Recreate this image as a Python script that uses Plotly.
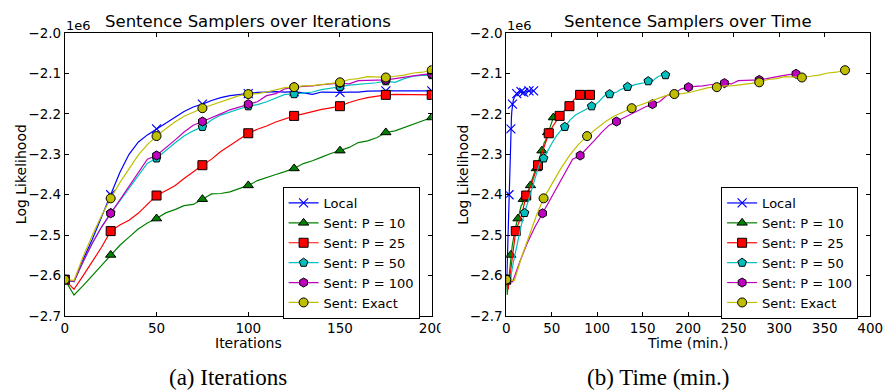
import plotly.graph_objects as go

# ---------------- data (log likelihood in units of 1e6) ----------------
iterations = list(range(0, 201, 5))

ll_local = [-2.610, -2.615, -2.560, -2.510, -2.455, -2.400, -2.345, -2.300, -2.270, -2.252,
            -2.237, -2.222, -2.208, -2.194, -2.183, -2.176, -2.167, -2.160, -2.155, -2.152,
            -2.150, -2.147, -2.146, -2.145, -2.146, -2.145, -2.148, -2.152, -2.146, -2.147,
            -2.147, -2.146, -2.146, -2.144, -2.143, -2.143, -2.143, -2.143, -2.144, -2.143, -2.143]
ll_p10 = [-2.610, -2.648, -2.625, -2.600, -2.575, -2.549, -2.525, -2.505, -2.485, -2.470,
          -2.459, -2.445, -2.437, -2.427, -2.424, -2.411, -2.398, -2.397, -2.393, -2.385,
          -2.377, -2.365, -2.357, -2.350, -2.343, -2.335, -2.323, -2.316, -2.307, -2.298,
          -2.291, -2.283, -2.271, -2.267, -2.259, -2.246, -2.242, -2.234, -2.225, -2.217, -2.209]
ll_p25 = [-2.610, -2.634, -2.600, -2.565, -2.530, -2.490, -2.475, -2.463, -2.446, -2.424,
          -2.402, -2.390, -2.378, -2.360, -2.343, -2.327, -2.312, -2.293, -2.278, -2.262,
          -2.248, -2.238, -2.230, -2.220, -2.213, -2.205, -2.200, -2.194, -2.189, -2.185,
          -2.181, -2.172, -2.165, -2.160, -2.156, -2.153, -2.152, -2.152, -2.152, -2.153, -2.153]
ll_p50 = [-2.610, -2.615, -2.565, -2.520, -2.480, -2.445, -2.415, -2.385, -2.352, -2.322,
          -2.310, -2.290, -2.272, -2.255, -2.242, -2.232, -2.215, -2.203, -2.195, -2.188,
          -2.181, -2.177, -2.170, -2.160, -2.152, -2.151, -2.148, -2.146, -2.140, -2.137,
          -2.133, -2.129, -2.127, -2.125, -2.123, -2.119, -2.122, -2.113, -2.107, -2.105, -2.104]
ll_p100 = [-2.610, -2.615, -2.565, -2.520, -2.480, -2.446, -2.415, -2.380, -2.345, -2.312,
           -2.303, -2.285, -2.265, -2.245, -2.228, -2.219, -2.210, -2.200, -2.190, -2.183,
           -2.176, -2.170, -2.155, -2.150, -2.138, -2.134, -2.132, -2.131, -2.128, -2.126,
           -2.124, -2.126, -2.118, -2.117, -2.117, -2.116, -2.113, -2.109, -2.106, -2.103, -2.101]
ll_exact = [-2.610, -2.612, -2.553, -2.500, -2.452, -2.409, -2.370, -2.335, -2.302, -2.276,
            -2.255, -2.237, -2.220, -2.206, -2.195, -2.186, -2.178, -2.170, -2.162, -2.155,
            -2.151, -2.150, -2.146, -2.140, -2.135, -2.134, -2.131, -2.130, -2.127, -2.124,
            -2.122, -2.115, -2.113, -2.108, -2.109, -2.110, -2.107, -2.104, -2.099, -2.097, -2.092]

# wall-clock time (minutes) at each of the iteration samples above
t_local = [0, 0.5, 1.2, 1.8, 2.4, 3.0, 3.4, 3.8, 4.2, 4.6, 5.0, 5.4, 5.7, 6.1, 6.5, 6.8,
           7.6, 8.7, 9.8, 10.5, 11.5, 12.8, 13.6, 15.0, 14.4, 16.2, 17.4, 16.8, 18.6, 19.8,
           19.2, 21.0, 22.3, 21.6, 23.6, 24.9, 24.2, 26.3, 27.7, 27.0, 30.0]
t_p10 = [0, 1.0, 2.0, 3.0, 4.0, 5.0, 6.6, 8.2, 9.8, 11.3, 12.9, 14.1, 15.2, 16.4, 17.5, 18.7,
         20.3, 21.9, 23.4, 25.0, 26.6, 27.9, 29.2, 30.5, 31.8, 33.1, 34.3, 35.5, 36.8, 38.0,
         39.2, 40.5, 41.7, 43.0, 44.2, 45.5, 46.8, 48.0, 49.3, 50.5, 51.8]
t_p25 = [0, 2.0, 4.1, 6.2, 8.3, 10.4, 12.7, 15.0, 17.3, 19.6, 21.9, 24.5, 27.1, 29.7, 32.3,
         34.9, 37.3, 39.6, 42.0, 44.3, 46.7, 49.1, 51.5, 53.8, 56.2, 58.6, 60.8, 62.9, 65.1,
         67.2, 69.4, 71.8, 74.1, 76.5, 78.8, 81.2, 83.4, 85.5, 87.7, 89.8, 92.0]
t_p50 = [0, 4.0, 8.0, 12.0, 16.0, 20.1, 24.3, 28.5, 32.6, 36.8, 41.0, 45.7, 50.3, 55.0, 59.6,
         64.3, 70.2, 76.1, 82.0, 87.9, 93.8, 97.8, 101.7, 105.7, 109.6, 113.6, 117.5, 121.5,
         125.4, 129.4, 133.3, 137.8, 142.4, 146.9, 151.5, 156.0, 159.8, 163.6, 167.4, 171.2, 175.0]
t_p100 = [0, 7.0, 15.0, 23.0, 31.5, 39.9, 48.2, 56.4, 64.7, 72.9, 81.2, 89.2, 97.2, 105.1,
          113.1, 121.1, 129.0, 136.9, 144.8, 152.7, 160.6, 168.5, 176.4, 184.4, 192.3, 200.2,
          208.1, 216.0, 223.9, 231.8, 239.7, 247.4, 255.0, 262.7, 270.3, 278.0, 286.1, 294.2,
          302.2, 310.3, 318.4]
t_exact = [0, 9.0, 17.0, 25.0, 33.0, 41.0, 50.6, 60.1, 69.7, 79.2, 88.8, 98.6, 108.4, 118.2,
           128.0, 137.8, 147.2, 156.6, 165.9, 175.3, 184.7, 194.0, 203.4, 212.7, 222.1, 231.4,
           240.7, 250.0, 259.4, 268.7, 278.0, 287.4, 296.8, 306.1, 315.5, 324.9, 334.4, 343.8,
           353.3, 362.8, 372.3]

series_names = ["Local", "Sent: P = 10", "Sent: P = 25", "Sent: P = 50", "Sent: P = 100", "Sent: Exact"]
series_ll = [ll_local, ll_p10, ll_p25, ll_p50, ll_p100, ll_exact]
series_time = [t_local, t_p10, t_p25, t_p50, t_p100, t_exact]

y_ticks = [-2.7, -2.6, -2.5, -2.4, -2.3, -2.2, -2.1, -2.0]
y_ticktext = ["\u22122.7", "\u22122.6", "\u22122.5", "\u22122.4", "\u22122.3", "\u22122.2", "\u22122.1", "\u22122.0"]
x1_ticks = [0, 50, 100, 150, 200]
x2_ticks = [0, 50, 100, 150, 200, 250, 300, 350, 400]

# ---------------- styles ----------------
colors = ["#0000ff", "#008000", "#ff0000", "#00bfbf", "#bf00bf", "#bfbf00"]
symbols = ["x-thin", "triangle-up", "square", "pentagon", "hexagon", "circle"]
msizes = [9, 9, 9, 9, 9, 9]
MARK_EVERY = 5  # marker on every 25 iterations

W, H = 895, 391
ML, MR, MT, MB = 0, 0, 33, 75
PH = H - MT - MB


def px_x(p):
    return p / W


def px_y(p):
    return (H - MB - p) / PH


FONT = "DejaVu Sans"

fig = go.Figure()


def marker_style(i):
    if symbols[i] == "x-thin":
        return dict(symbol="x-thin", size=msizes[i], color=colors[i],
                    line=dict(color=colors[i], width=1.2))
    return dict(symbol=symbols[i], size=msizes[i], color=colors[i],
                line=dict(color="black", width=1))


for panel, (xa, ya, leg) in enumerate([("x", "y", "legend"), ("x2", "y2", "legend2")]):
    for i, name in enumerate(series_names):
        xs = iterations if panel == 0 else series_time[i]
        ys = series_ll[i]
        fig.add_trace(go.Scatter(x=xs, y=ys, mode="lines", xaxis=xa, yaxis=ya,
                                 line=dict(color=colors[i], width=1.2),
                                 showlegend=False, hoverinfo="skip"))
        fig.add_trace(go.Scatter(x=xs[::MARK_EVERY], y=ys[::MARK_EVERY], mode="markers",
                                 xaxis=xa, yaxis=ya, marker=marker_style(i),
                                 showlegend=False, hoverinfo="skip"))
    # legend entries (no data drawn)
    for i, name in enumerate(series_names):
        fig.add_trace(go.Scatter(x=[None], y=[None], mode="lines+markers", name=name,
                                 xaxis=xa, yaxis=ya, legend=leg,
                                 line=dict(color=colors[i], width=1.2),
                                 marker=marker_style(i)))

axis_common = dict(showline=True, linecolor="black", linewidth=1, mirror="ticks",
                   ticks="inside", ticklen=4, tickcolor="black", tickwidth=1,
                   showgrid=False, zeroline=False,
                   tickfont=dict(family=FONT, size=13.5, color="black"))

legend_common = dict(xanchor="left", yanchor="top",
                     bordercolor="black", borderwidth=1, bgcolor="white",
                     font=dict(family=FONT, size=13, color="black"),
                     tracegroupgap=0, itemwidth=30)

fig.update_layout(
    width=W, height=H,
    margin=dict(l=ML, r=MR, t=MT, b=MB),
    paper_bgcolor="white", plot_bgcolor="white",
    font=dict(family=FONT, size=13, color="black"),
    xaxis=dict(domain=[px_x(62), px_x(436)], range=[0, 200], tickvals=x1_ticks,
               anchor="y", **axis_common),
    yaxis=dict(domain=[0, 1], range=[-2.7, -2.0], tickvals=y_ticks, ticktext=y_ticktext,
               anchor="x", **axis_common),
    xaxis2=dict(domain=[px_x(512), px_x(883)], range=[0, 400], tickvals=x2_ticks,
                anchor="y2", **axis_common),
    yaxis2=dict(domain=[0, 1], range=[-2.7, -2.0], tickvals=y_ticks, ticktext=y_ticktext,
                anchor="x2", **axis_common),
    legend=dict(x=px_x(284), y=px_y(187), **legend_common),
    legend2=dict(x=px_x(731), y=px_y(187), **legend_common),
)

annotations = []
# titles
for cx, txt in [(249, "Sentence Samplers over Iterations"), (697.5, "Sentence Samplers over Time")]:
    annotations.append(dict(text=txt, x=px_x(cx), y=px_y(21.5), xref="paper", yref="paper",
                            showarrow=False, xanchor="center", yanchor="middle",
                            font=dict(family=FONT, size=16.5, color="black")))
# offset labels
for lx in [61, 511]:
    annotations.append(dict(text="1e6", x=px_x(lx), y=px_y(25.5), xref="paper", yref="paper",
                            showarrow=False, xanchor="left", yanchor="middle",
                            font=dict(family=FONT, size=13, color="black")))
# axis titles
for cx, txt in [(249, "Iterations"), (697.5, "Time (min.)")]:
    annotations.append(dict(text=txt, x=px_x(cx), y=px_y(343), xref="paper", yref="paper",
                            showarrow=False, xanchor="center", yanchor="middle",
                            font=dict(family=FONT, size=14, color="black")))
for cx in [17, 467]:
    annotations.append(dict(text="Log Likelihood", x=px_x(cx), y=px_y(174.5), xref="paper",
                            yref="paper", showarrow=False, xanchor="center", yanchor="middle",
                            textangle=-90, font=dict(family=FONT, size=14, color="black")))
# sub-captions
for cx, txt in [(228, "(a) Iterations"), (667, "(b) Time (min.)")]:
    annotations.append(dict(text=txt, x=px_x(cx), y=px_y(377), xref="paper", yref="paper",
                            showarrow=False, xanchor="center", yanchor="middle",
                            font=dict(family="Liberation Serif", size=23, color="black")))
fig.update_layout(annotations=annotations)

# the left panel is cropped on its right edge in the original figure
fig.add_shape(type="rect", xref="paper", yref="paper",
              x0=px_x(445), x1=px_x(458), y0=px_y(336), y1=px_y(318),
              fillcolor="white", line=dict(width=0), layer="above")

fig.write_html("out.html")
